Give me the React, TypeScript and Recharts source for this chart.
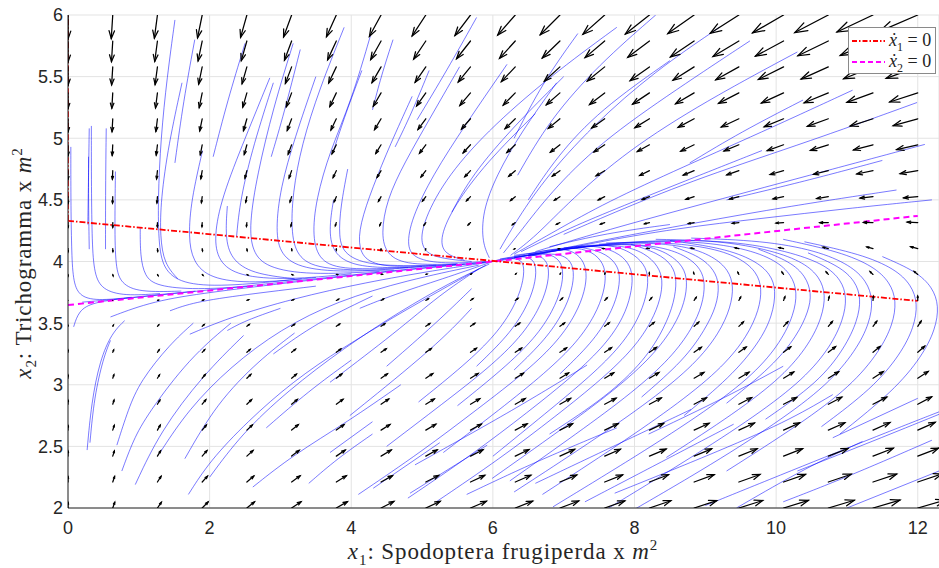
import React from "react";
import { CartesianGrid, ComposedChart, Line, Scatter, XAxis, YAxis } from "recharts";

const CHART_W = 939;
const CHART_H = 568;
const MARGIN = { top: 15, right: 0, bottom: 0, left: 0 };
const Y_AXIS_W = 68;
const X_AXIS_H = 60;
const X_DOMAIN: [number, number] = [0, 12.3];
const Y_DOMAIN: [number, number] = [2, 6];
const PX_PER_X = (CHART_W - Y_AXIS_W - MARGIN.right - MARGIN.left) / (X_DOMAIN[1] - X_DOMAIN[0]);
const PX_PER_Y = (CHART_H - MARGIN.top - MARGIN.bottom - X_AXIS_H) / (Y_DOMAIN[1] - Y_DOMAIN[0]);

const X_TICKS = [0, 2, 4, 6, 8, 10, 12];
const Y_TICKS = [2, 2.5, 3, 3.5, 4, 4.5, 5, 5.5, 6];

// quiver grid (20 x 20)
const X_GRID = [0, 0.632, 1.263, 1.895, 2.526, 3.158, 3.789, 4.421, 5.053, 5.684, 6.316, 6.947, 7.579, 8.211, 8.842, 9.474, 10.105, 10.737, 11.368, 12];
const Y_GRID = [2, 2.211, 2.421, 2.632, 2.842, 3.053, 3.263, 3.474, 3.684, 3.895, 4.105, 4.316, 4.526, 4.737, 4.947, 5.158, 5.368, 5.579, 5.789, 6];

// horizontal arrow component, one list per column (bottom row first)
const U_BY_COLUMN = [
  [0, 0, 0, 0, 0, 0, 0, 0, 0, 0, 0, 0, 0, 0, 0, 0, 0, 0, 0, 0],
  [0.028, 0.026, 0.023, 0.021, 0.018, 0.016, 0.013, 0.01, 0.008, 0.005, 0.002, 0, -0.003, -0.005, -0.008, -0.01, -0.013, -0.016, -0.018, -0.021],
  [0.056, 0.051, 0.045, 0.04, 0.035, 0.03, 0.025, 0.019, 0.014, 0.009, 0.004, -0.001, -0.007, -0.012, -0.017, -0.022, -0.027, -0.033, -0.038, -0.043],
  [0.083, 0.075, 0.067, 0.059, 0.051, 0.044, 0.036, 0.028, 0.02, 0.012, 0.005, -0.003, -0.011, -0.019, -0.027, -0.035, -0.042, -0.05, -0.058, -0.066],
  [0.108, 0.098, 0.087, 0.077, 0.067, 0.056, 0.046, 0.035, 0.025, 0.015, 0.004, -0.006, -0.016, -0.027, -0.037, -0.048, -0.058, -0.068, -0.079, -0.089],
  [0.133, 0.12, 0.107, 0.094, 0.081, 0.068, 0.055, 0.042, 0.029, 0.016, 0.003, -0.01, -0.023, -0.036, -0.049, -0.062, -0.075, -0.088, -0.101, -0.114],
  [0.157, 0.142, 0.126, 0.11, 0.095, 0.079, 0.064, 0.048, 0.033, 0.017, 0.001, -0.014, -0.03, -0.045, -0.061, -0.076, -0.092, -0.108, -0.123, -0.139],
  [0.181, 0.162, 0.144, 0.126, 0.108, 0.09, 0.072, 0.053, 0.035, 0.017, -0.001, -0.019, -0.037, -0.056, -0.074, -0.092, -0.11, -0.128, -0.146, -0.164],
  [0.203, 0.182, 0.161, 0.141, 0.12, 0.099, 0.078, 0.057, 0.036, 0.016, -0.005, -0.026, -0.047, -0.068, -0.089, -0.11, -0.13, -0.151, -0.172, -0.193],
  [0.225, 0.201, 0.178, 0.154, 0.131, 0.108, 0.084, 0.061, 0.037, 0.014, -0.009, -0.033, -0.056, -0.08, -0.103, -0.127, -0.15, -0.173, -0.197, -0.22],
  [0.246, 0.22, 0.194, 0.168, 0.142, 0.116, 0.09, 0.064, 0.038, 0.012, -0.014, -0.04, -0.066, -0.092, -0.118, -0.144, -0.17, -0.196, -0.222, -0.248],
  [0.265, 0.237, 0.208, 0.179, 0.151, 0.122, 0.094, 0.065, 0.036, 0.008, -0.021, -0.049, -0.078, -0.107, -0.135, -0.164, -0.192, -0.221, -0.249, -0.278],
  [0.284, 0.253, 0.222, 0.191, 0.16, 0.128, 0.097, 0.066, 0.035, 0.004, -0.027, -0.059, -0.09, -0.121, -0.152, -0.183, -0.214, -0.246, -0.277, -0.308],
  [0.303, 0.269, 0.235, 0.201, 0.167, 0.134, 0.1, 0.066, 0.032, -0.002, -0.036, -0.069, -0.103, -0.137, -0.171, -0.205, -0.238, -0.272, -0.306, -0.34],
  [0.32, 0.284, 0.247, 0.211, 0.174, 0.138, 0.102, 0.065, 0.029, -0.008, -0.044, -0.08, -0.117, -0.153, -0.189, -0.226, -0.262, -0.299, -0.335, -0.371],
  [0.337, 0.298, 0.259, 0.22, 0.181, 0.142, 0.103, 0.064, 0.025, -0.014, -0.053, -0.092, -0.131, -0.17, -0.209, -0.248, -0.287, -0.326, -0.365, -0.404],
  [0.352, 0.31, 0.269, 0.227, 0.186, 0.144, 0.102, 0.061, 0.019, -0.022, -0.064, -0.106, -0.147, -0.189, -0.23, -0.272, -0.313, -0.355, -0.397, -0.438],
  [0.367, 0.323, 0.279, 0.234, 0.19, 0.146, 0.102, 0.058, 0.013, -0.031, -0.075, -0.119, -0.163, -0.208, -0.252, -0.296, -0.34, -0.384, -0.429, -0.473],
  [0.381, 0.334, 0.287, 0.24, 0.194, 0.147, 0.1, 0.053, 0.006, -0.041, -0.087, -0.134, -0.181, -0.228, -0.275, -0.322, -0.368, -0.415, -0.462, -0.509],
  [0.394, 0.345, 0.295, 0.246, 0.196, 0.147, 0.098, 0.048, -0.001, -0.051, -0.1, -0.149, -0.199, -0.248, -0.298, -0.347, -0.396, -0.446, -0.495, -0.545],
];

// vertical arrow component, one list per row (left column first)
const V_BY_ROW = [
  [0.045, 0.046, 0.047, 0.049, 0.05, 0.051, 0.052, 0.053, 0.054, 0.055, 0.056, 0.057, 0.058, 0.059, 0.06, 0.061, 0.062, 0.063, 0.064, 0.065],
  [0.044, 0.045, 0.046, 0.047, 0.048, 0.05, 0.051, 0.052, 0.053, 0.054, 0.055, 0.056, 0.058, 0.059, 0.06, 0.061, 0.062, 0.063, 0.064, 0.066],
  [0.041, 0.042, 0.043, 0.045, 0.046, 0.047, 0.049, 0.05, 0.051, 0.052, 0.054, 0.055, 0.056, 0.057, 0.059, 0.06, 0.061, 0.062, 0.064, 0.065],
  [0.037, 0.038, 0.04, 0.041, 0.042, 0.044, 0.045, 0.046, 0.048, 0.049, 0.051, 0.052, 0.053, 0.055, 0.056, 0.058, 0.059, 0.06, 0.062, 0.063],
  [0.032, 0.033, 0.034, 0.036, 0.037, 0.039, 0.04, 0.042, 0.043, 0.045, 0.046, 0.048, 0.049, 0.051, 0.052, 0.054, 0.055, 0.057, 0.058, 0.06],
  [0.025, 0.027, 0.028, 0.03, 0.031, 0.033, 0.035, 0.036, 0.038, 0.039, 0.041, 0.043, 0.044, 0.046, 0.047, 0.049, 0.051, 0.052, 0.054, 0.055],
  [0.017, 0.019, 0.021, 0.022, 0.024, 0.026, 0.028, 0.029, 0.031, 0.033, 0.034, 0.036, 0.038, 0.04, 0.041, 0.043, 0.045, 0.046, 0.048, 0.05],
  [0.008, 0.01, 0.012, 0.014, 0.016, 0.017, 0.019, 0.021, 0.023, 0.025, 0.027, 0.028, 0.03, 0.032, 0.034, 0.036, 0.037, 0.039, 0.041, 0.043],
  [-0.002, 0, 0.002, 0.004, 0.006, 0.008, 0.01, 0.012, 0.013, 0.015, 0.017, 0.019, 0.021, 0.023, 0.025, 0.027, 0.029, 0.031, 0.033, 0.035],
  [-0.013, -0.011, -0.009, -0.007, -0.005, -0.003, -0.001, 0.001, 0.003, 0.005, 0.007, 0.009, 0.011, 0.013, 0.015, 0.017, 0.019, 0.021, 0.023, 0.025],
  [-0.026, -0.024, -0.022, -0.019, -0.017, -0.015, -0.013, -0.011, -0.009, -0.007, -0.004, -0.002, 0, 0.002, 0.004, 0.006, 0.008, 0.011, 0.013, 0.015],
  [-0.04, -0.038, -0.035, -0.033, -0.031, -0.029, -0.026, -0.024, -0.022, -0.019, -0.017, -0.015, -0.013, -0.01, -0.008, -0.006, -0.004, -0.001, 0.001, 0.003],
  [-0.055, -0.052, -0.05, -0.048, -0.045, -0.043, -0.041, -0.038, -0.036, -0.033, -0.031, -0.029, -0.026, -0.024, -0.022, -0.019, -0.017, -0.015, -0.012, -0.01],
  [-0.071, -0.069, -0.066, -0.064, -0.061, -0.059, -0.056, -0.054, -0.051, -0.049, -0.046, -0.044, -0.041, -0.039, -0.036, -0.034, -0.031, -0.029, -0.027, -0.024],
  [-0.089, -0.086, -0.083, -0.081, -0.078, -0.076, -0.073, -0.07, -0.068, -0.065, -0.063, -0.06, -0.058, -0.055, -0.052, -0.05, -0.047, -0.045, -0.042, -0.039],
  [-0.107, -0.105, -0.102, -0.099, -0.097, -0.094, -0.091, -0.088, -0.086, -0.083, -0.08, -0.078, -0.075, -0.072, -0.07, -0.067, -0.064, -0.061, -0.059, -0.056],
  [-0.127, -0.124, -0.122, -0.119, -0.116, -0.113, -0.11, -0.108, -0.105, -0.102, -0.099, -0.096, -0.094, -0.091, -0.088, -0.085, -0.082, -0.08, -0.077, -0.074],
  [-0.149, -0.146, -0.143, -0.14, -0.137, -0.134, -0.131, -0.128, -0.125, -0.122, -0.119, -0.116, -0.114, -0.111, -0.108, -0.105, -0.102, -0.099, -0.096, -0.093],
  [-0.171, -0.168, -0.165, -0.162, -0.159, -0.156, -0.153, -0.15, -0.147, -0.144, -0.141, -0.138, -0.135, -0.132, -0.129, -0.126, -0.123, -0.12, -0.117, -0.114],
  [-0.195, -0.191, -0.188, -0.185, -0.182, -0.179, -0.176, -0.173, -0.17, -0.167, -0.163, -0.16, -0.157, -0.154, -0.151, -0.148, -0.145, -0.142, -0.138, -0.135],
];

// nullclines
const X1_NULL_X = [0, 12];
const X1_NULL_Y = [4.33, 3.68];
const X1_AXIS_NULL_Y = [4.33, 6];
const X2_NULL_X = [0, 6, 12];
const X2_NULL_Y = [3.647, 4.0, 4.37];

// streamlines
const LEFT_STREAMS = [
  [[0.04, 4.93], [0.04, 4.5], [0.05, 4.1], [0.07, 3.85], [0.15, 3.72], [0.4, 3.68], [0.9, 3.71]],
  [[0.33, 5.1], [0.33, 4.6], [0.34, 4.15], [0.37, 3.9], [0.48, 3.77], [0.8, 3.72], [1.3, 3.74]],
  [[0.29, 4.85], [0.29, 4.45], [0.3, 4.1]],
  [[0.54, 5.08], [0.53, 4.6], [0.53, 4.1]],
  [[0.67, 4.73], [0.66, 4.3], [0.67, 3.95], [0.75, 3.82], [1.0, 3.75], [1.6, 3.76]],
  [[0.3, 5.08], [0.29, 4.7], [0.28, 4.3]],
  [[1.02, 4.27], [1.02, 4.05], [1.08, 3.88], [1.25, 3.8], [1.8, 3.77], [2.6, 3.8]],
  [[1.51, 5.96], [1.4, 5.5], [1.31, 5.0], [1.27, 4.5], [1.28, 4.12], [1.36, 3.92], [1.65, 3.81], [2.3, 3.8], [3.3, 3.86]],
  [[1.79, 5.8], [1.63, 5.3], [1.51, 4.8]],
  [[1.61, 5.45], [1.42, 4.95], [1.31, 4.5], [1.3, 4.2], [1.36, 3.98], [1.55, 3.86]],
  [[1.9, 4.9], [1.74, 4.5], [1.7, 4.2], [1.76, 4.0], [2.0, 3.86], [2.6, 3.82], [3.5, 3.87]],
  [[2.5, 5.77], [2.25, 5.3], [2.05, 4.85]],
  [[2.85, 5.49], [2.5, 5.0], [2.17, 4.52], [2.06, 4.2], [2.12, 4.0], [2.4, 3.88], [3.1, 3.85], [4.0, 3.9]],
  [[2.9, 5.45], [2.62, 4.95], [2.43, 4.5], [2.38, 4.2]],
  [[3.18, 5.77], [2.9, 5.25], [2.67, 4.7], [2.56, 4.3], [2.6, 4.08], [2.8, 3.95], [3.4, 3.89], [4.4, 3.92]],
  [[3.28, 5.72], [3.05, 5.2], [2.87, 4.85]],
  [[3.5, 5.5], [3.2, 5.0], [3.0, 4.6], [2.93, 4.25], [3.0, 4.05], [3.3, 3.94], [4.0, 3.91], [5.0, 3.96]],
  [[3.9, 5.9], [3.55, 5.4], [3.3, 4.95], [3.17, 4.55], [3.15, 4.22], [3.25, 4.02], [3.6, 3.93], [4.6, 3.93]],
  [[4.27, 5.83], [4.0, 5.3], [3.7, 4.9], [3.5, 4.5], [3.45, 4.2], [3.55, 4.0], [3.9, 3.93], [4.8, 3.95], [5.6, 3.98]],
  [[4.15, 5.55], [3.92, 5.2], [3.75, 4.9]],
  [[4.59, 5.8], [4.42, 5.5], [4.3, 5.23]],
  [[4.86, 5.34], [4.55, 4.95], [4.3, 4.6], [4.12, 4.3], [4.1, 4.1], [4.25, 3.98], [4.7, 3.95], [5.5, 3.98]],
  [[5.1, 5.55], [4.85, 5.2], [4.62, 4.93]],
  [[5.53, 5.58], [5.1, 5.15], [4.75, 4.8], [4.5, 4.5], [4.42, 4.22], [4.5, 4.05], [4.8, 3.97], [5.5, 3.98]],
  [[5.77, 5.98], [5.35, 5.55], [4.93, 5.15]],
  [[6.2, 5.6], [5.6, 5.1], [5.15, 4.7], [4.85, 4.35], [4.78, 4.12], [4.9, 4.02], [5.3, 3.98], [5.9, 4.0]],
  [[7.75, 5.9], [6.8, 5.5], [5.9, 5.05], [5.3, 4.65], [5.0, 4.3], [4.98, 4.12], [5.15, 4.03], [5.7, 4.0]],
  [[6.6, 5.2], [5.9, 4.8], [5.45, 4.45], [5.25, 4.2], [5.3, 4.06], [5.6, 4.01]],
  [[7.0, 5.5], [6.3, 5.1], [5.7, 4.7], [5.42, 4.4]],
  [[2.25, 4.45], [2.22, 4.2], [2.3, 4.02], [2.6, 3.9], [3.2, 3.86]],
  [[3.75, 4.5], [3.68, 4.25], [3.75, 4.05], [4.1, 3.95], [4.8, 3.95]],
  [[3.95, 4.75], [3.85, 4.45], [3.82, 4.2], [3.9, 4.05], [4.3, 3.96], [5.2, 3.97]],
];

const TOP_RIGHT_STREAMS = [
  [[9.63, 5.79], [8.6, 5.4], [7.5, 4.96], [6.8, 4.55], [6.4, 4.25], [6.15, 4.07]],
  [[11.08, 5.39], [9.8, 5.05], [8.5, 4.72], [7.5, 4.45], [6.8, 4.22], [6.3, 4.06]],
  [[11.99, 5.29], [10.5, 4.98], [8.92, 4.68], [7.8, 4.42], [7.0, 4.22]],
  [[11.7, 4.58], [10.2, 4.45], [8.83, 4.31], [7.6, 4.18], [6.7, 4.07], [6.2, 4.02]],
  [[8.5, 5.63], [7.51, 5.23], [6.9, 4.85], [6.5, 4.5]],
  [[10.38, 5.31], [9.5, 5.05], [8.78, 4.8]],
  [[12.1, 4.95], [10.8, 4.75], [9.5, 4.55], [8.4, 4.38], [7.4, 4.22], [6.6, 4.08]],
  [[9.2, 5.9], [8.3, 5.55], [7.4, 5.1], [6.7, 4.65], [6.3, 4.3], [6.1, 4.1]],
  [[8.3, 6.0], [7.5, 5.6], [6.8, 5.15], [6.35, 4.7]],
  [[10.3, 5.7], [9.0, 5.3], [7.9, 4.9], [7.1, 4.5], [6.6, 4.2], [6.25, 4.05]],
  [[7.2, 5.85], [6.7, 5.45], [6.3, 5.0]],
  [[8.5, 4.3], [7.6, 4.23], [6.8, 4.12]],
  [[11.5, 4.82], [10.4, 4.65], [9.3, 4.5]],
  [[9.8, 4.9], [8.7, 4.65], [7.7, 4.42], [7.0, 4.25], [6.4, 4.08]],
  [[6.9, 5.45], [6.4, 5.05], [6.05, 4.7], [5.85, 4.4], [5.85, 4.15], [5.95, 4.03]],
  [[12.2, 4.5], [11.0, 4.43], [9.8, 4.35], [8.6, 4.27], [7.4, 4.15], [6.5, 4.04]],
];

const RIGHT_STREAMS = [
  [[4.95, 2.86], [5.6, 3.16], [6.05, 3.41], [6.3, 3.63], [6.42, 3.81], [6.45, 3.96], [6.38, 4.03], [6.15, 4.02], [6.02, 4.0]],
  [[5.77, 3.15], [6.22, 3.4], [6.47, 3.62], [6.59, 3.8], [6.62, 3.95], [6.55, 4.04], [6.3, 4.04], [6.05, 4.01]],
  [[4.5, 2.5], [5.3, 2.85], [5.95, 3.14], [6.4, 3.39], [6.65, 3.61], [6.77, 3.79], [6.8, 3.94], [6.73, 4.04], [6.5, 4.06], [6.1, 4.02]],
  [[5.5, 2.83], [6.15, 3.13], [6.6, 3.38], [6.85, 3.6], [6.97, 3.78], [7.0, 3.93], [6.93, 4.03], [6.7, 4.08], [6.3, 4.05]],
  [[4.1, 2.11], [5.0, 2.46], [5.8, 2.81], [6.48, 3.11], [6.93, 3.36], [7.18, 3.58], [7.3, 3.76], [7.33, 3.91], [7.27, 4.02], [7.1, 4.1], [6.8, 4.1], [6.3, 4.04]],
  [[5.3, 2.45], [6.1, 2.8], [6.75, 3.1], [7.2, 3.35], [7.45, 3.57], [7.57, 3.75], [7.6, 3.9], [7.54, 4.01], [7.35, 4.1], [7.0, 4.12], [6.5, 4.06]],
  [[4.8, 2.08], [5.7, 2.43], [6.5, 2.78], [7.15, 3.08], [7.6, 3.33], [7.85, 3.55], [7.95, 3.73], [7.98, 3.88], [7.92, 3.99], [7.75, 4.08], [7.4, 4.14], [6.9, 4.1], [6.3, 4.03]],
  [[6.0, 2.42], [6.75, 2.77], [7.38, 3.07], [7.82, 3.32], [8.06, 3.54], [8.17, 3.72], [8.2, 3.87], [8.14, 3.98], [7.95, 4.08], [7.6, 4.15], [7.0, 4.11]],
  [[5.2, 2.05], [6.1, 2.4], [6.9, 2.75], [7.55, 3.05], [8.0, 3.3], [8.25, 3.52], [8.37, 3.7], [8.4, 3.85], [8.34, 3.96], [8.15, 4.07], [7.8, 4.14], [7.2, 4.12], [6.5, 4.05], [6.05, 4.0]],
  [[5.99, 2.24], [6.95, 2.63], [7.73, 2.96], [8.27, 3.24], [8.57, 3.48], [8.71, 3.67], [8.75, 3.84], [8.69, 3.96], [8.5, 4.06], [8.15, 4.14], [7.5, 4.14], [6.8, 4.08]],
  [[6.24, 2.22], [7.2, 2.61], [7.98, 2.94], [8.52, 3.22], [8.82, 3.46], [8.96, 3.65], [9.0, 3.82], [8.94, 3.94], [8.75, 4.04], [8.4, 4.12], [7.8, 4.15], [7.0, 4.1], [6.3, 4.03]],
  [[6.3, 2.13], [7.37, 2.53], [8.25, 2.88], [8.86, 3.17], [9.2, 3.42], [9.36, 3.63], [9.4, 3.8], [9.33, 3.93], [9.12, 4.04], [8.72, 4.13], [8.0, 4.16], [7.2, 4.12], [6.5, 4.05]],
  [[6.7, 2.11], [7.77, 2.51], [8.65, 2.86], [9.26, 3.15], [9.6, 3.4], [9.76, 3.61], [9.8, 3.78], [9.73, 3.91], [9.52, 4.02], [9.12, 4.11], [8.4, 4.16], [7.6, 4.15]],
  [[6.85, 2.01], [8.05, 2.43], [9.02, 2.79], [9.7, 3.09], [10.07, 3.35], [10.25, 3.57], [10.3, 3.75], [10.22, 3.89], [10.0, 4.01], [9.55, 4.11], [8.8, 4.17], [7.8, 4.16], [6.9, 4.09]],
  [[8.45, 2.41], [9.42, 2.77], [10.1, 3.07], [10.47, 3.33], [10.65, 3.55], [10.7, 3.73], [10.62, 3.87], [10.4, 3.99], [9.95, 4.09], [9.2, 4.17], [8.3, 4.18]],
  [[7.55, 1.97], [8.75, 2.39], [9.72, 2.75], [10.4, 3.05], [10.77, 3.31], [10.95, 3.53], [11.0, 3.71], [10.92, 3.85], [10.7, 3.97], [10.25, 4.07], [9.5, 4.16], [8.5, 4.18], [7.5, 4.14]],
  [[7.67, 1.88], [8.97, 2.31], [10.01, 2.69], [10.73, 3.0], [11.13, 3.28], [11.32, 3.5], [11.37, 3.69], [11.28, 3.84], [11.05, 3.97], [10.57, 4.09], [9.8, 4.17], [8.8, 4.19]],
  [[9.3, 2.3], [10.34, 2.68], [11.06, 2.99], [11.46, 3.27], [11.65, 3.49], [11.7, 3.68], [11.61, 3.83], [11.38, 3.96], [10.9, 4.08], [10.1, 4.18]],
  [[10.64, 2.66], [11.36, 2.97], [11.76, 3.25], [11.95, 3.47], [12.0, 3.66], [11.91, 3.81], [11.68, 3.94], [11.2, 4.06], [10.4, 4.16]],
  [[10.9, 2.6], [11.66, 2.95], [12.06, 3.23], [12.25, 3.45], [12.3, 3.64], [12.21, 3.79], [11.98, 3.92], [11.5, 4.04]],
  [[6.3, 3.12], [6.75, 3.37], [7.0, 3.59], [7.12, 3.77], [7.15, 3.92], [7.09, 4.02], [6.9, 4.07], [6.5, 4.05]],
  [[6.95, 3.09], [7.4, 3.34], [7.65, 3.56], [7.77, 3.74], [7.8, 3.89], [7.74, 3.99], [7.55, 4.08], [7.2, 4.12]],
  [[6.8, 2.6], [7.6, 2.9], [8.15, 3.2], [8.43, 3.47], [8.56, 3.67], [8.6, 3.85], [8.54, 3.97], [8.33, 4.07], [7.95, 4.14]],
  [[8.1, 2.9], [8.7, 3.2], [9.0, 3.45], [9.16, 3.64], [9.2, 3.81], [9.13, 3.93], [8.93, 4.04], [8.55, 4.12]],
  [[8.7, 2.75], [9.35, 3.06], [9.76, 3.34], [9.95, 3.56], [10.0, 3.77], [9.92, 3.9], [9.7, 4.01], [9.25, 4.11], [8.5, 4.17]],
  [[9.3, 2.85], [9.95, 3.15], [10.3, 3.4], [10.46, 3.6], [10.5, 3.74], [10.42, 3.88], [10.2, 4.0], [9.75, 4.1]],
  [[9.85, 2.72], [10.6, 3.02], [10.97, 3.3], [11.15, 3.52], [11.2, 3.7], [11.12, 3.84], [10.9, 3.96], [10.45, 4.07]],
];

const BOTTOM_STREAMS = [
  [[0.27, 2.47], [0.33, 2.85], [0.45, 3.2], [0.62, 3.42], [0.8, 3.52]],
  [[0.31, 2.53], [0.37, 2.9], [0.5, 3.22], [0.6, 3.36]],
  [[0.08, 3.47], [0.15, 3.6], [0.35, 3.67], [0.9, 3.71], [1.8, 3.76]],
  [[0.69, 2.51], [0.85, 2.8], [1.02, 3.03], [1.44, 3.33], [1.77, 3.5]],
  [[0.76, 2.3], [0.92, 2.55], [1.12, 2.76], [1.72, 3.22], [2.3, 3.5]],
  [[0.95, 2.19], [1.3, 2.62], [1.91, 3.08], [2.48, 3.4]],
  [[1.7, 2.11], [2.0, 2.38], [2.53, 2.7], [3.18, 3.03], [3.88, 3.3], [4.6, 3.55], [5.3, 3.78], [5.9, 3.97]],
  [[1.65, 2.4], [2.1, 2.85], [2.7, 3.2], [3.2, 3.42]],
  [[1.44, 3.6], [1.77, 3.67], [2.48, 3.73], [3.5, 3.8]],
  [[1.72, 3.41], [2.25, 3.54], [3.18, 3.7], [4.2, 3.83], [5.2, 3.93], [5.9, 3.99]],
  [[2.25, 3.44], [2.5, 3.52], [3.0, 3.62]],
  [[2.61, 2.17], [3.18, 2.43], [3.95, 2.7], [4.7, 3.0]],
  [[3.4, 2.2], [3.8, 2.4], [4.3, 2.6]],
  [[3.7, 2.45], [4.3, 2.7]],
  [[1.3, 2.45], [1.7, 2.8], [2.3, 3.15], [3.0, 3.45], [3.8, 3.68], [4.8, 3.85], [5.8, 3.97]],
  [[2.0, 2.25], [2.45, 2.6], [3.1, 2.95], [3.9, 3.3], [4.7, 3.6], [5.4, 3.83], [5.95, 3.98]],
  [[3.7, 3.02], [4.64, 3.43], [5.25, 3.73], [5.8, 3.94]],
  [[3.98, 2.75], [5.21, 3.32], [5.7, 3.62]],
  [[4.12, 3.62], [4.59, 3.73], [5.3, 3.86], [5.95, 3.99]],
  [[2.9, 3.25], [3.5, 3.5], [4.3, 3.72]],
  [[0.6, 3.55], [1.2, 3.68], [2.0, 3.75], [3.0, 3.82], [4.2, 3.9], [5.3, 3.96], [6.0, 4.0]],
  [[0.2, 3.67], [1.0, 3.71], [2.0, 3.77], [3.0, 3.83], [4.0, 3.89], [5.0, 3.95], [6.0, 4.0]],
  [[4.5, 3.15], [5.2, 3.5], [5.7, 3.78]],
  [[2.8, 2.65], [3.4, 2.95], [4.0, 3.2]],
];

const FRAGMENT_STREAMS = [
  [[4.31, 2.16], [5.25, 2.53]],
  [[4.83, 2.12], [5.92, 2.51]],
  [[5.63, 2.11], [6.62, 2.38], [7.75, 2.65]],
  [[4.9, 2.35], [6.34, 2.81], [7.33, 3.16]],
  [[7.72, 2.12], [9.06, 2.43], [10.15, 2.7], [10.8, 2.92]],
  [[9.44, 2.0], [10.43, 2.33], [11.22, 2.54]],
  [[10.1, 2.05], [11.0, 2.25], [12.2, 2.55]],
  [[9.0, 2.02], [10.2, 2.3], [11.5, 2.6], [12.3, 2.78]],
  [[11.0, 2.0], [12.3, 2.3]],
  [[10.3, 2.3], [11.4, 2.55], [12.3, 2.76]],
  [[6.6, 2.2], [7.7, 2.5], [8.8, 2.8]],
  [[8.2, 2.6], [9.3, 2.9], [10.1, 3.15]],
  [[10.8, 2.57], [12.0, 2.89]],
  [[7.3, 2.05], [8.3, 2.35], [9.4, 2.68]],
];

const ALL_STREAMS = [...LEFT_STREAMS, ...TOP_RIGHT_STREAMS, ...RIGHT_STREAMS, ...BOTTOM_STREAMS, ...FRAGMENT_STREAMS];

const quiverTable = X_GRID.flatMap((x, k) =>
  Y_GRID.map((y, j) => ({ x, y, u: U_BY_COLUMN[k][j], v: V_BY_ROW[j][k] }))
);
const x1Null = X1_NULL_X.map((x, i) => ({ x, y: X1_NULL_Y[i] }));
const x1AxisNull = X1_AXIS_NULL_Y.map((y) => ({ x: 0, y }));
const x2Null = X2_NULL_X.map((x, i) => ({ x, y: X2_NULL_Y[i] }));

function QuiverArrow(props: any) {
  const { cx, cy, payload } = props;
  if (cx == null || cy == null || !payload) return <g />;
  const du = payload.u * PX_PER_X;
  const dv = -payload.v * PX_PER_Y;
  const len = Math.hypot(du, dv);
  if (len < 0.6) return <circle cx={cx} cy={cy} r={0.6} fill="#000" />;
  const tx = cx + du;
  const ty = cy + dv;
  const a = 0.33;
  const b = 0.35;
  const h1 = [tx - a * (du + b * dv), ty - a * (dv - b * du)];
  const h2 = [tx - a * (du - b * dv), ty - a * (dv + b * du)];
  return (
    <g stroke="#000" strokeWidth={1.25} fill="none" strokeLinecap="round">
      <line x1={cx} y1={cy} x2={tx} y2={ty} />
      <polyline points={`${h1[0]},${h1[1]} ${tx},${ty} ${h2[0]},${h2[1]}`} />
    </g>
  );
}

const SERIF = "'Liberation Serif', 'DejaVu Serif', 'Times New Roman', serif";
const SANS = "'Liberation Sans', Arial, Helvetica, sans-serif";

function LegendBox() {
  const row = (color: string, dash: string, idx: string) => (
    <div style={{ display: "flex", alignItems: "center", height: 21 }}>
      <svg width={35} height={10} style={{ marginRight: 3, flex: "none" }}>
        <line x1={1} y1={5} x2={34} y2={5} stroke={color} strokeWidth={1.8} strokeDasharray={dash} />
      </svg>
      <span style={{ fontFamily: SERIF, fontSize: 18, color: "#222", whiteSpace: "nowrap" }}>
        <i>ẋ</i>
        <sub style={{ fontSize: 12, lineHeight: 0 }}>{idx}</sub> = 0
      </span>
    </div>
  );
  return (
    <div
      style={{
        position: "absolute",
        left: 848,
        top: 27,
        width: 88,
        height: 47,
        border: "1px solid #8a8a8a",
        background: "#fff",
        padding: "2px 0 0 2px",
        boxSizing: "border-box",
      }}
    >
      {row("#ff0000", "5 2 1.5 2", "1")}
      {row("#ff00ff", "5 3", "2")}
    </div>
  );
}

const LABEL_STYLE: React.CSSProperties = {
  position: "absolute",
  fontFamily: SERIF,
  fontSize: 23,
  letterSpacing: 0.9,
  color: "#262626",
  whiteSpace: "nowrap",
  lineHeight: "23px",
};

export default function App() {
  return (
    <div style={{ position: "absolute", left: 0, top: 0, width: CHART_W, height: CHART_H, background: "#fff" }}>
      <ComposedChart width={CHART_W} height={CHART_H} margin={MARGIN}>
        <CartesianGrid stroke="#e3e3e3" strokeWidth={1} />
        <XAxis
          type="number"
          dataKey="x"
          domain={X_DOMAIN}
          ticks={X_TICKS}
          allowDataOverflow
          height={X_AXIS_H}
          tickLine={false}
          tickSize={0}
          tickMargin={13}
          axisLine={{ stroke: "#262626" }}
          tick={{ fontSize: 18, fill: "#262626", fontFamily: SANS }}
        />
        <YAxis
          type="number"
          dataKey="y"
          domain={Y_DOMAIN}
          ticks={Y_TICKS}
          allowDataOverflow
          width={Y_AXIS_W}
          tickLine={false}
          tickSize={0}
          tickMargin={5}
          axisLine={{ stroke: "#262626" }}
          tick={{ fontSize: 18, fill: "#262626", fontFamily: SANS }}
        />
        {ALL_STREAMS.map((pts, i) => (
          <Line
            key={`s${i}`}
            data={pts.map(([x, y]) => ({ x, y }))}
            dataKey="y"
            type="basis"
            stroke="#0000ff"
            strokeWidth={0.7}
            strokeOpacity={0.75}
            dot={false}
            activeDot={false}
            isAnimationActive={false}
            legendType="none"
          />
        ))}
        <Scatter data={quiverTable} dataKey="y" shape={QuiverArrow} isAnimationActive={false} legendType="none" />
        <Line data={x2Null} dataKey="y" type="linear" stroke="#ff00ff" strokeWidth={2} strokeDasharray="6 4" dot={false} activeDot={false} isAnimationActive={false} />
        <Line data={x1Null} dataKey="y" type="linear" stroke="#ff0000" strokeWidth={1.8} strokeDasharray="6 2 1.5 2" dot={false} activeDot={false} isAnimationActive={false} />
        <Line data={x1AxisNull} dataKey="y" type="linear" stroke="#ff0000" strokeWidth={1.8} strokeDasharray="6 2 1.5 2" dot={false} activeDot={false} isAnimationActive={false} />
      </ComposedChart>
      <LegendBox />
      <div style={{ ...LABEL_STYLE, left: 503, top: 540, transform: "translateX(-50%)" }}>
        <i>x</i>
        <sub style={{ fontSize: 15, lineHeight: 0 }}>1</sub>: Spodoptera frugiperda x <i>m</i>
        <sup style={{ fontSize: 15, lineHeight: 0 }}>2</sup>
      </div>
      <div style={{ ...LABEL_STYLE, left: 23, top: 263, transform: "translate(-50%, -50%) rotate(-90deg)" }}>
        <i>x</i>
        <sub style={{ fontSize: 15, lineHeight: 0 }}>2</sub>: Trichogramma x <i>m</i>
        <sup style={{ fontSize: 15, lineHeight: 0 }}>2</sup>
      </div>
    </div>
  );
}
